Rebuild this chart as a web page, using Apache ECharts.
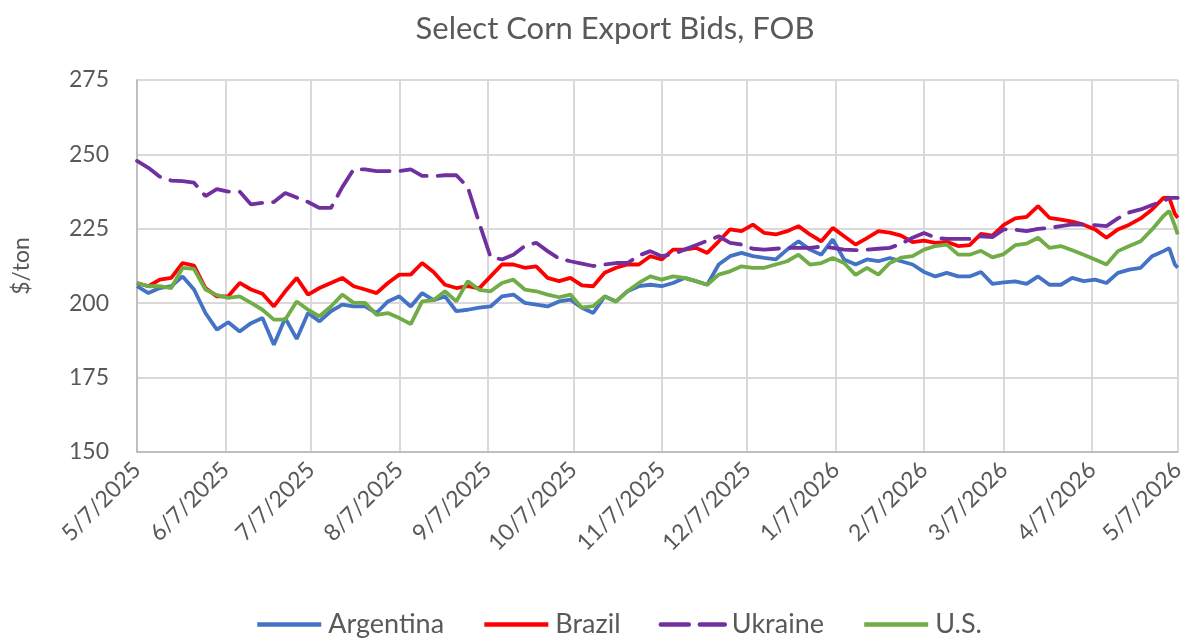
<!DOCTYPE html>
<html>
<head>
<meta charset="utf-8">
<script src="https://cdn.jsdelivr.net/npm/echarts@6/dist/echarts.min.js"></script>
<style>
  html, body { margin: 0; padding: 0; background: #ffffff; }
  #chart { width: 1188px; height: 643px; }
</style>
</head>
<body>
<div id="chart"></div>
<script>
const sampleDates = [
  '5/7/2025','5/11/2025','5/15/2025','5/19/2025','5/23/2025','5/27/2025','5/31/2025',
  '6/4/2025','6/8/2025','6/12/2025','6/16/2025','6/20/2025','6/24/2025','6/28/2025',
  '7/2/2025','7/6/2025','7/10/2025','7/14/2025','7/18/2025','7/22/2025','7/26/2025','7/30/2025',
  '8/3/2025','8/7/2025','8/11/2025','8/15/2025','8/19/2025','8/23/2025','8/27/2025','8/31/2025',
  '9/4/2025','9/8/2025','9/12/2025','9/16/2025','9/20/2025','9/24/2025','9/28/2025',
  '10/2/2025','10/6/2025','10/10/2025','10/14/2025','10/18/2025','10/22/2025','10/26/2025','10/30/2025',
  '11/3/2025','11/7/2025','11/11/2025','11/15/2025','11/19/2025','11/23/2025','11/27/2025',
  '12/1/2025','12/5/2025','12/9/2025','12/13/2025','12/17/2025','12/21/2025','12/25/2025','12/29/2025',
  '1/2/2026','1/6/2026','1/10/2026','1/14/2026','1/18/2026','1/22/2026','1/26/2026','1/30/2026',
  '2/3/2026','2/7/2026','2/11/2026','2/15/2026','2/19/2026','2/23/2026','2/27/2026',
  '3/3/2026','3/7/2026','3/11/2026','3/15/2026','3/19/2026','3/23/2026','3/27/2026','3/31/2026',
  '4/4/2026','4/8/2026','4/12/2026','4/16/2026','4/20/2026','4/24/2026','4/28/2026',
  '5/2/2026','5/4/2026','5/6/2026','5/7/2026'
];

const argentina = [
  205.7,203.4,205.1,205.7,209.0,204.6,196.7,
  191.1,193.6,190.5,193.3,195.0,186.0,195.0,
  188.0,196.7,193.9,197.3,199.5,198.9,198.9,196.7,
  200.6,202.3,198.9,203.4,201.0,202.3,197.3,197.8,
  198.5,198.9,202.3,202.9,200.1,199.5,198.9,
  200.6,201.2,198.5,196.7,202.3,200.6,204.0,205.7,
  206.2,205.7,206.8,208.5,207.4,206.2,213.0,
  215.8,216.9,215.8,215.2,214.7,218.0,220.8,218.0,
  216.3,221.4,214.7,213.0,214.7,214.1,215.2,214.1,
  213.0,210.5,209.0,210.2,209.0,209.0,210.5,
  206.5,207.0,207.3,206.5,209.0,206.2,206.2,208.5,
  207.4,207.9,206.8,210.2,211.3,211.9,215.8,
  217.5,218.5,213.0,211.9
];

const brazil = [
  206.8,205.7,207.9,208.5,213.5,212.6,205.1,
  202.3,202.3,206.8,204.6,203.2,198.9,204.0,
  208.5,202.9,205.1,206.8,208.5,205.7,204.6,203.4,
  206.8,209.6,209.6,213.5,210.5,206.2,205.1,205.7,
  205.0,209.0,213.0,213.0,211.9,212.4,208.5,
  207.4,208.5,206.0,205.7,210.2,211.9,213.0,213.0,
  215.8,214.7,218.0,218.0,218.6,216.9,220.8,
  224.8,224.2,226.4,223.6,223.1,224.2,225.9,223.1,
  220.8,225.3,222.5,219.7,221.9,224.2,223.7,222.7,
  220.5,221.0,220.3,220.6,219.2,219.5,223.3,
  222.7,226.3,228.5,229.0,232.6,228.7,228.1,227.4,
  226.4,224.8,222.0,224.8,226.4,228.5,231.5,
  235.4,235.5,230.0,228.7
];

const ukraine = [
  247.8,245.5,242.5,241.2,241.0,240.5,236.0,
  238.3,237.5,237.5,233.2,233.7,234.0,237.0,
  235.5,234.0,232.0,232.0,239.0,245.0,245.0,244.4,
  244.4,244.4,245.0,242.8,242.7,243.0,243.0,239.0,
  227.0,215.5,214.7,216.3,219.2,220.3,217.5,
  215.0,214.1,213.3,212.5,213.0,213.5,213.5,216.0,
  217.5,215.8,216.5,218.0,219.5,221.0,222.5,
  220.3,219.7,218.3,218.0,218.3,218.6,218.6,218.6,
  219.0,218.6,218.0,217.8,218.0,218.3,218.6,220.0,
  222.0,223.6,222.0,221.6,221.6,221.6,222.5,
  222.2,224.8,224.7,224.2,225.0,225.3,225.9,226.5,
  226.4,226.2,225.9,228.5,230.5,231.5,233.0,
  234.3,235.4,235.4,235.4
];

const us = [
  206.8,205.7,205.7,205.1,211.9,211.5,204.6,
  202.7,201.8,202.3,200.1,197.8,194.5,194.5,
  200.6,197.8,195.6,198.9,202.9,200.1,200.1,196.1,
  196.7,195.0,193.0,200.6,201.0,204.0,200.6,207.4,
  204.5,204.0,206.8,207.9,204.6,204.0,202.9,
  202.0,202.9,198.5,199.0,202.3,200.5,204.0,206.8,
  209.0,207.9,209.0,208.5,207.4,206.2,209.6,
  210.7,212.4,211.9,211.9,213.0,214.1,216.3,213.0,
  213.5,215.2,213.5,209.5,211.9,209.6,213.5,215.3,
  215.8,218.0,219.2,219.7,216.3,216.3,217.6,
  215.4,216.5,219.5,220.0,222.0,218.6,219.2,217.8,
  216.3,214.7,213.0,217.5,219.2,220.8,224.8,
  229.3,231.0,226.0,223.1
];

const yTicks = { min: 150, max: 275, interval: 25 };
const axisStart = '2025-05-07';
const axisEnd = '2026-05-07';

// Daily category axis from start to end date
function buildDays(a, b) {
  const out = [];
  const d = new Date(a + 'T00:00:00');
  const e = new Date(b + 'T00:00:00');
  while (d <= e) {
    out.push((d.getMonth() + 1) + '/' + d.getDate() + '/' + d.getFullYear());
    d.setDate(d.getDate() + 1);
  }
  return out;
}
const days = buildDays(axisStart, axisEnd);
const isTickDay = (idx, val) => String(val).split('/')[1] === '7';

const pair = arr => sampleDates.map((d, i) => [d, arr[i]]);

const FONT = 'Lato, "Open Sans", sans-serif';
const TXT = '#595959';

const chart = echarts.init(document.getElementById('chart'), null, { renderer: 'canvas' });
chart.setOption({
  backgroundColor: '#ffffff',
  animation: false,
  title: {
    text: 'Select Corn Export Bids, FOB',
    left: 610, top: 8, textAlign: 'center',
    textStyle: { fontFamily: FONT, fontSize: 31, fontWeight: 'normal', color: TXT }
  },
  legend: {
    bottom: 0, left: 250,
    itemWidth: 64, itemHeight: 14, itemGap: 38,
    itemStyle: { opacity: 0 },
    lineStyle: { width: 4.5 },
    textStyle: { fontFamily: FONT, fontSize: 27, color: TXT, padding: [0, 0, 0, 2] },
    data: ['Argentina', 'Brazil', 'Ukraine', 'U.S.']
  },
  grid: { left: 137, right: 6, top: 80, bottom: 191, containLabel: false },
  xAxis: {
    type: 'category',
    data: days,
    boundaryGap: false,
    axisLine: { show: true, lineStyle: { color: '#bfbfbf', width: 2 } },
    axisTick: { show: false },
    axisLabel: {
      interval: isTickDay, rotate: 45, margin: 14,
      fontFamily: FONT, fontSize: 23, color: TXT
    },
    splitLine: { show: true, interval: isTickDay, lineStyle: { color: '#d9d9d9', width: 2 } }
  },
  yAxis: {
    type: 'value',
    min: yTicks.min, max: yTicks.max, interval: yTicks.interval,
    name: '$/ton', nameLocation: 'middle', nameGap: 104, nameRotate: 90,
    nameTextStyle: { fontFamily: FONT, fontSize: 23, color: TXT },
    axisLine: { show: true, lineStyle: { color: '#bfbfbf', width: 2 } },
    axisTick: { show: false },
    axisLabel: { fontFamily: FONT, fontSize: 23, color: TXT, margin: 28 },
    splitLine: { show: true, lineStyle: { color: '#d9d9d9', width: 2 } }
  },
  series: [
    { name: 'Argentina', type: 'line', data: pair(argentina), symbol: 'none',
      lineStyle: { color: '#4472C4', width: 3.8 }, itemStyle: { color: '#4472C4' } },
    { name: 'Brazil', type: 'line', data: pair(brazil), symbol: 'none',
      lineStyle: { color: '#FF0000', width: 3.8 }, itemStyle: { color: '#FF0000' } },
    { name: 'Ukraine', type: 'line', data: pair(ukraine), symbol: 'none',
      lineStyle: { color: '#7030A0', width: 3.8, type: [28, 11], cap: 'round' }, itemStyle: { color: '#7030A0' } },
    { name: 'U.S.', type: 'line', data: pair(us), symbol: 'none',
      lineStyle: { color: '#70AD47', width: 3.8 }, itemStyle: { color: '#70AD47' } }
  ]
});
</script>
</body>
</html>
